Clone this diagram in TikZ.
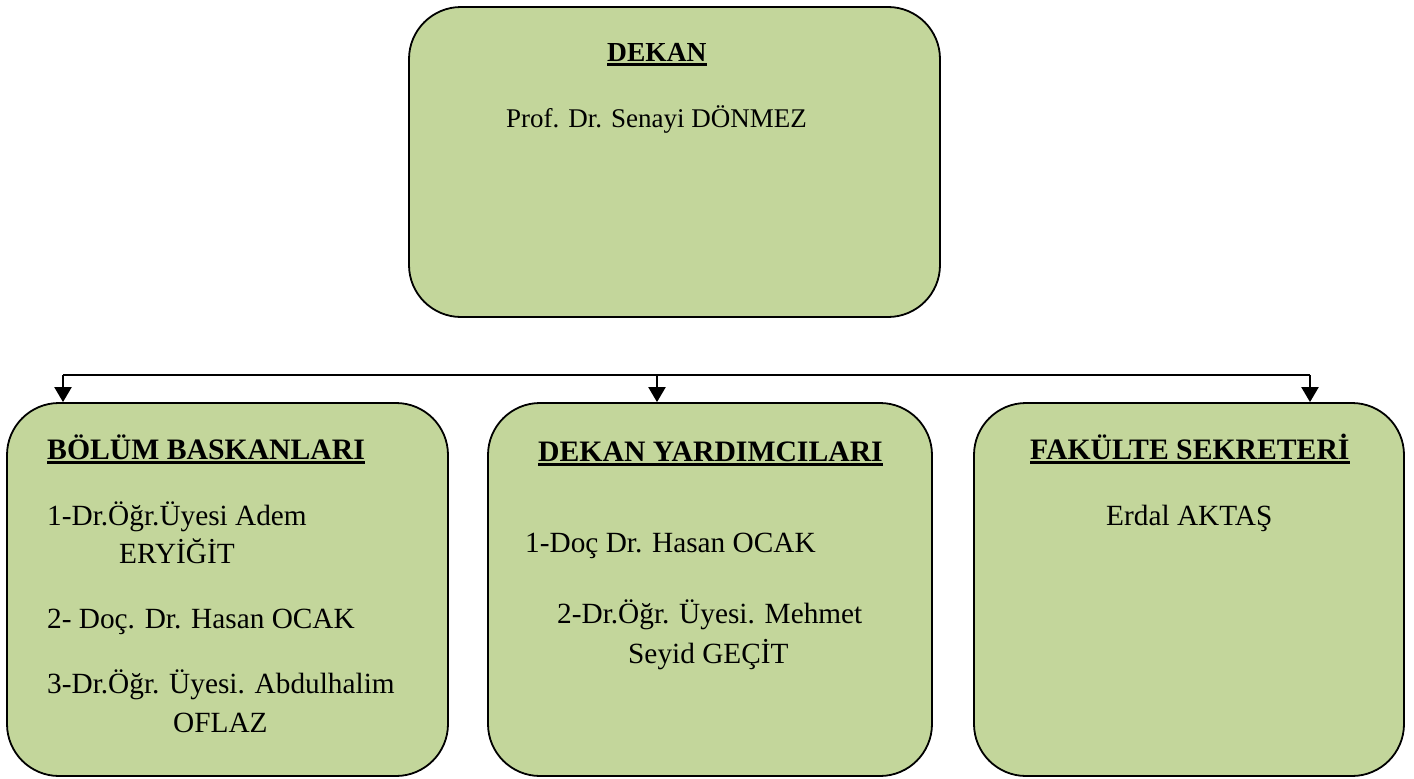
\documentclass[tikz,border=0pt]{standalone}
\usepackage{fontspec}
\setmainfont{Liberation Serif}
\usetikzlibrary{arrows.meta}
\definecolor{boxgreen}{HTML}{C3D69B}
\newcommand{\hdline}[1]{\setbox0\hbox{\bfseries #1}\rlap{\rule[-5pt]{\wd0}{3pt}}\box0}
\begin{document}
\begin{tikzpicture}[x=1pt, y=-1pt,
  box/.style={draw, line width=1.8pt, fill=boxgreen, rounded corners=52pt},
  hd/.style={anchor=base west, inner sep=0pt, font=\fontsize{29.7}{34}\selectfont},
  txt/.style={anchor=base west, inner sep=0pt, font=\fontsize{29.3}{34}\selectfont},
  tophd/.style={hd, font=\fontsize{27.5}{32}\selectfont},
  toptxt/.style={txt, font=\fontsize{27}{32}\selectfont},
  arr/.style={line width=2.2pt, -{Triangle[width=17pt,length=15pt]}}]
\useasboundingbox (0,0) rectangle (1414,779);
\node[box, minimum width=531pt, minimum height=310pt] (dekan) at (674.5,162) {};
\node[box, minimum width=441pt, minimum height=373pt] (bolum) at (227.5,589.5) {};
\node[box, minimum width=444pt, minimum height=373pt] (yard) at (710,589.5) {};
\node[box, minimum width=430pt, minimum height=373pt] (sekr) at (1189,589.5) {};
\node[tophd] (dekanhd) at (607,61) {\hdline{DEKAN}};
\node[toptxt] (dekanad) at (506,127) {Prof. Dr. Senayi DÖNMEZ};
\node[hd] (bolumhd) at (47,459) {\hdline{BÖLÜM BASKANLARI}};
\node[txt] (bolum1a) at (47,525) {1-Dr.Öğr.Üyesi Adem};
\node[txt] (bolum1b) at (119,563) {ERYİĞİT};
\node[txt] (bolum2) at (47,628) {2- Doç. Dr. Hasan OCAK};
\node[txt] (bolum3a) at (47,693) {3-Dr.Öğr. Üyesi. Abdulhalim};
\node[txt] (bolum3b) at (173,732) {OFLAZ};
\node[hd] (yardhd) at (538,461) {\hdline{DEKAN YARDIMCILARI}};
\node[txt] (yard1) at (525,552) {1-Doç Dr. Hasan OCAK};
\node[txt] (yard2a) at (557,623) {2-Dr.Öğr. Üyesi. Mehmet};
\node[txt] (yard2b) at (628,663) {Seyid GEÇİT};
\node[hd] (sekrhd) at (1030,459) {\hdline{FAKÜLTE SEKRETERİ}};
\node[txt] (sekrad) at (1106,525) {Erdal AKTAŞ};
\coordinate (busL) at (63,375);
\coordinate (busM) at (657,375);
\coordinate (busR) at (1310,375);
\draw[line width=2.2pt] (busL) -- (busR);
\draw[arr] (busL) -- (busL |- bolum.north);
\draw[arr] (busM) -- (busM |- yard.north);
\draw[arr] (busR) -- (busR |- sekr.north);
\end{tikzpicture}
\end{document}
